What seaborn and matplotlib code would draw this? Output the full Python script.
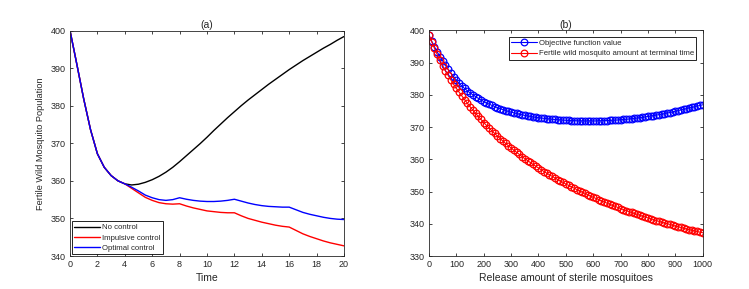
import numpy as np
import pandas as pd
import matplotlib
matplotlib.use("Agg")
import matplotlib.pyplot as plt
import seaborn as sns

# ---- panel (a): population over time ----
time = np.arange(0, 20.5, 0.5)
# 0..4 : the three curves coincide
shared_start = [400.0, 391.0, 381.8, 373.6, 367.2, 363.6, 361.4, 360.0, 359.2]
no_control_tail = [358.9, 359.1, 359.6, 360.3, 361.2, 362.3, 363.6, 365.1, 366.7, 368.3, 369.9,
                   371.6, 373.4, 375.1, 376.8, 378.4, 380.0, 381.5, 382.9, 384.3, 385.7, 387.0,
                   388.3, 389.6, 390.8, 392.0, 393.1, 394.2, 395.3, 396.3, 397.4, 398.4]
impulsive_tail = [358.0, 356.8, 355.6, 354.8, 354.2, 353.9, 353.8, 353.9, 353.3, 352.8, 352.4,
                  352.0, 351.8, 351.6, 351.5, 351.5, 350.7, 350.0, 349.5, 349.0, 348.6, 348.2,
                  347.9, 347.7, 346.8, 345.9, 345.2, 344.6, 344.0, 343.5, 343.1, 342.7]
optimal_tail = [358.3, 357.3, 356.2, 355.5, 355.0, 354.8, 355.0, 355.5, 355.1, 354.8, 354.6,
                354.5, 354.5, 354.6, 354.8, 355.1, 354.6, 354.1, 353.7, 353.4, 353.2, 353.1,
                353.0, 353.0, 352.3, 351.6, 351.1, 350.7, 350.3, 350.0, 349.8, 349.7]
no_control = shared_start + no_control_tail
impulsive = shared_start + impulsive_tail
optimal = shared_start + optimal_tail

# ---- panel (b): values vs release amount ----
release = np.arange(0, 1001, 10)
objective = [398.5, 396.6, 394.9, 393.3, 391.8, 390.5,
             389.15, 387.9, 386.7, 385.6, 384.5,
             383.55, 382.7, 381.95, 381.25, 380.6,
             380.0, 379.45, 378.9, 378.4, 377.9,
             377.5, 377.1, 376.7, 376.35, 376.0,
             375.7, 375.4, 375.1, 374.85, 374.6,
             374.4, 374.2, 374.0, 373.8, 373.6,
             373.45, 373.3, 373.15, 373.0, 372.9,
             372.8, 372.7, 372.6, 372.5, 372.4,
             372.35, 372.3, 372.2, 372.15, 372.1,
             372.05, 372.0, 372.0, 371.95, 371.9,
             371.9, 371.9, 371.9, 371.9, 371.9,
             371.9, 371.95, 371.95, 372.0, 372.0,
             372.05, 372.1, 372.15, 372.2, 372.3,
             372.35, 372.4, 372.5, 372.6, 372.7,
             372.8, 372.9, 373.0, 373.15, 373.3,
             373.4, 373.55, 373.7, 373.85, 374.0,
             374.15, 374.35, 374.5, 374.7, 374.9,
             375.1, 375.3, 375.5, 375.7, 375.9,
             376.1, 376.3, 376.5, 376.7, 376.9]
terminal = [398.5, 396.4, 394.4, 392.5, 390.7, 389.0,
            387.45, 386.0, 384.6, 383.25, 382.0,
            380.8, 379.65, 378.5, 377.4, 376.3,
            375.25, 374.25, 373.3, 372.35, 371.4,
            370.5, 369.65, 368.8, 368.0, 367.2,
            366.4, 365.65, 364.9, 364.2, 363.5,
            362.8, 362.15, 361.5, 360.85, 360.2,
            359.6, 359.0, 358.4, 357.85, 357.3,
            356.75, 356.2, 355.7, 355.2, 354.7,
            354.2, 353.7, 353.25, 352.8, 352.3,
            351.9, 351.45, 351.05, 350.6, 350.2,
            349.8, 349.4, 349.0, 348.6, 348.2,
            347.85, 347.5, 347.1, 346.75, 346.4,
            346.05, 345.7, 345.4, 345.05, 344.7,
            344.4, 344.1, 343.8, 343.5, 343.2,
            342.9, 342.65, 342.35, 342.1, 341.8,
            341.55, 341.3, 341.0, 340.75, 340.5,
            340.25, 340.0, 339.8, 339.55, 339.3,
            339.1, 338.85, 338.65, 338.4, 338.2,
            338.0, 337.8, 337.6, 337.4, 337.2]

sns.set_style("ticks")
plt.rcParams['font.family'] = ['Liberation Sans', 'DejaVu Sans']
plt.rcParams.update({'axes.edgecolor': '#262626', 'axes.linewidth': 0.6,
                     'xtick.color': '#262626', 'ytick.color': '#262626',
                     'legend.fontsize': 5.6})

fig = plt.figure(figsize=(7.49, 2.89), dpi=100)
ax1 = fig.add_axes([70 / 749, 33 / 289, 274 / 749, 225.5 / 289])
ax2 = fig.add_axes([429 / 749, 33 / 289, 273.7 / 749, 225.7 / 289])

sns.lineplot(x=time, y=no_control, ax=ax1, color='black', lw=1.0, label='No control')
sns.lineplot(x=time, y=impulsive, ax=ax1, color='red', lw=1.0, label='Impulsive control')
sns.lineplot(x=time, y=optimal, ax=ax1, color='blue', lw=1.0, label='Optimal control')
ax1.set_xlim(0, 20)
ax1.set_ylim(340, 400)
ax1.set_xticks(range(0, 21, 2))
ax1.set_yticks(range(340, 401, 10))
ax1.set_title('(a)', fontsize=7.5, pad=2)
ax1.set_xlabel('Time', fontsize=7.5, labelpad=3)
ax1.set_ylabel('Fertile Wild Mosquito Population', fontsize=6.6, labelpad=4)
leg1 = ax1.legend(loc='lower left', borderaxespad=0.2, handlelength=3.3, handletextpad=0.2,
                  labelspacing=0.35, fancybox=False, framealpha=1, edgecolor='black',
                  borderpad=0.35)
leg1.get_frame().set_linewidth(0.6)

mk = dict(marker='o', markersize=4.8, markerfacecolor='none', markeredgewidth=0.9)
sns.lineplot(x=release, y=objective, ax=ax2, color='blue', lw=0.8,
             markeredgecolor='blue', label='Objective function value', **mk)
sns.lineplot(x=release, y=terminal, ax=ax2, color='red', lw=0.8,
             markeredgecolor='red', label='Fertile wild mosquito amount at terminal time', **mk)
ax2.set_xlim(0, 1000)
ax2.set_ylim(330, 400)
ax2.set_xticks(range(0, 1001, 100))
ax2.set_yticks(range(330, 401, 10))
ax2.set_title('(b)', fontsize=7.5, pad=2)
ax2.set_xlabel('Release amount of sterile mosquitoes', fontsize=7.5, labelpad=3)
leg2 = ax2.legend(loc='upper right', borderaxespad=0.8, handlelength=3.3, handletextpad=0.2,
                  labelspacing=0.4, fancybox=False, framealpha=1, edgecolor='black',
                  borderpad=0.35)
leg2.get_frame().set_linewidth(0.6)

for ax in (ax1, ax2):
    ax.tick_params(direction='in', top=True, right=True, length=2.5, width=0.6,
                   labelsize=6.5, pad=3)
    for s in ax.spines.values():
        s.set_visible(True)

fig.savefig('out.png', dpi=100)
